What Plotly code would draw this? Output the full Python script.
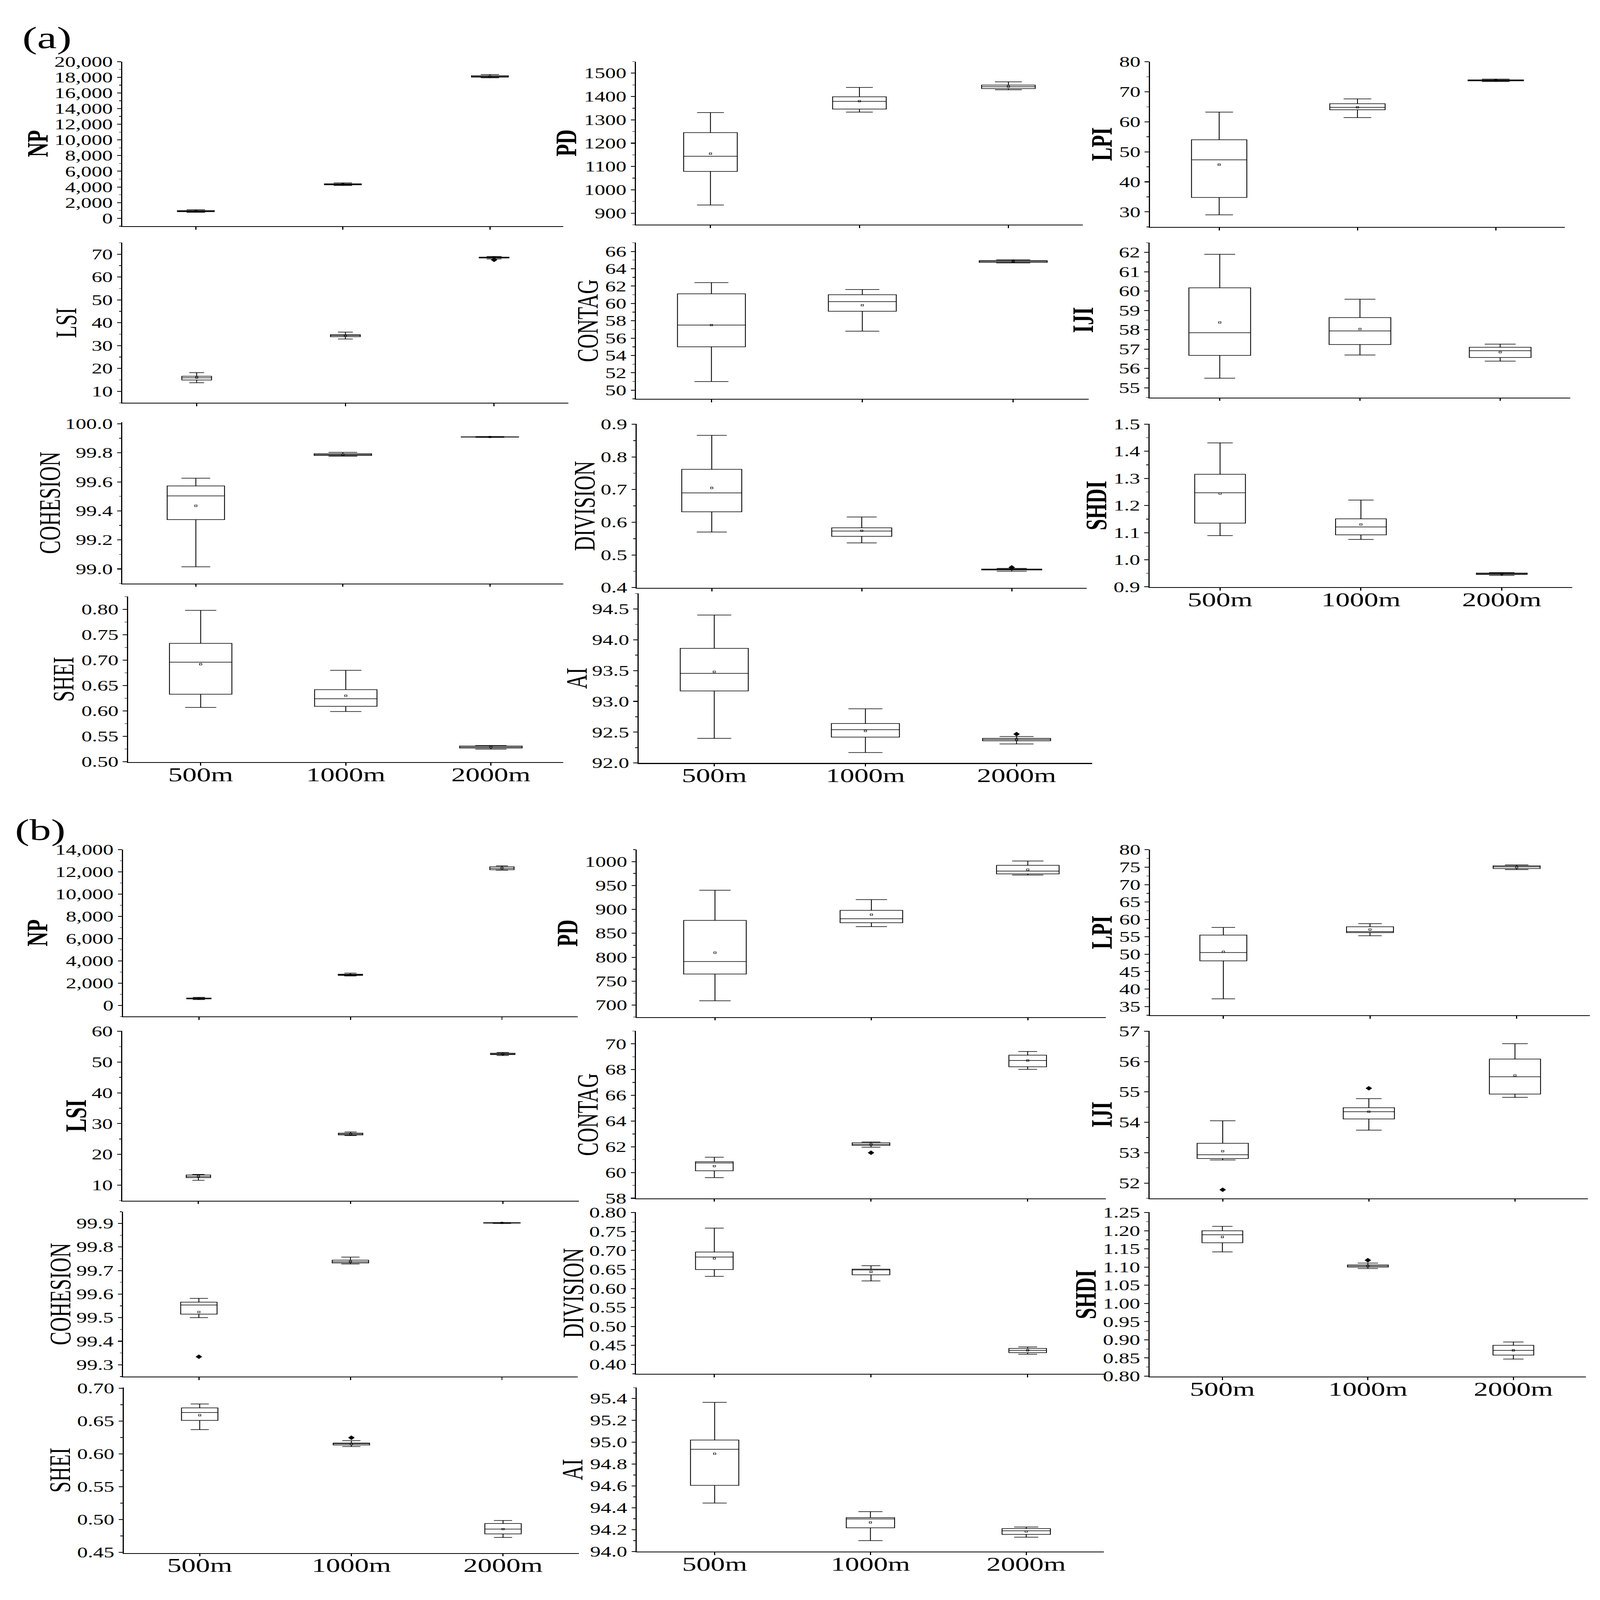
import plotly.graph_objects as go

SCALES = ["500m", "1000m", "2000m"]
METRICS = ["NP", "PD", "LPI", "LSI", "CONTAG", "IJI",
           "COHESION", "DIVISION", "SHDI", "SHEI", "AI"]

# box stats per scale (500m, 1000m, 2000m):
# lower whisker, Q1, median, Q3, upper whisker, mean
A_NP = [[760, 840, 900, 980, 1090, 910],
        [4180, 4270, 4330, 4400, 4520, 4340],
        [17930, 18020, 18100, 18200, 18350, 18110]]
A_PD = [[935, 1079, 1144, 1245, 1331, 1155],
        [1333, 1346, 1379, 1399, 1439, 1380],
        [1429, 1434, 1442, 1449, 1463, 1443]]
A_LPI = [[29.0, 34.8, 47.3, 54.0, 63.2, 45.7],
         [61.4, 64.0, 64.8, 66.0, 67.6, 64.8],
         [73.4, 73.6, 73.76, 73.95, 74.2, 73.8]]
A_LSI = [[13.8, 15.0, 15.9, 16.6, 18.2, 16.0],
         [32.9, 33.9, 34.4, 34.8, 35.9, 34.4],
         [67.9, 68.3, 68.5, 68.7, 69.0, 68.5]]
A_CONTAG = [[51.0, 55.0, 57.5, 61.1, 62.4, 57.5],
            [56.8, 59.1, 60.2, 61.0, 61.6, 59.8],
            [64.67, 64.73, 64.84, 64.93, 65.04, 64.88]]
A_IJI = [[55.5, 56.68, 57.85, 60.17, 61.9, 58.38],
         [56.7, 57.24, 57.94, 58.63, 59.58, 58.04],
         [56.38, 56.57, 56.92, 57.1, 57.26, 56.84]]
A_COHESION = [[99.015, 99.34, 99.503, 99.572, 99.625, 99.435],
              [99.777, 99.782, 99.788, 99.794, 99.803, 99.788],
              [99.906, 99.908, 99.909, 99.910, 99.912, 99.909]]
A_DIVISION = [[0.570, 0.632, 0.690, 0.762, 0.866, 0.705],
              [0.537, 0.557, 0.573, 0.583, 0.616, 0.574],
              [0.450, 0.454, 0.456, 0.457, 0.459, 0.456]]
A_SHDI = [[1.089, 1.135, 1.247, 1.315, 1.431, 1.244],
          [1.075, 1.092, 1.121, 1.151, 1.220, 1.130],
          [0.942, 0.946, 0.948, 0.951, 0.953, 0.948]]
A_SHEI = [[0.607, 0.633, 0.696, 0.733, 0.798, 0.692],
          [0.599, 0.609, 0.624, 0.642, 0.680, 0.630],
          [0.525, 0.527, 0.529, 0.531, 0.532, 0.529]]
A_AI = [[92.40, 93.17, 93.455, 93.86, 94.40, 93.48],
        [92.17, 92.42, 92.54, 92.64, 92.88, 92.52],
        [92.31, 92.36, 92.38, 92.40, 92.43, 92.38]]

B_NP = [[520, 580, 620, 660, 720, 620],
        [2650, 2700, 2750, 2800, 2900, 2750],
        [12160, 12200, 12320, 12460, 12550, 12340]]
B_PD = [[709, 765, 791, 877, 940, 809.5],
        [864, 872, 880.5, 898, 920.5, 889],
        [971.6, 974.2, 980, 992, 1001, 983]]
B_LPI = [[37.2, 48.1, 50.5, 55.5, 57.7, 50.7],
         [55.3, 56.2, 56.5, 57.9, 58.8, 57.1],
         [74.3, 74.6, 75.1, 75.4, 75.65, 75.0]]
B_LSI = [[11.6, 12.45, 12.8, 13.3, 13.5, 12.9],
         [26.1, 26.3, 26.6, 26.9, 27.3, 26.6],
         [52.1, 52.4, 52.6, 52.86, 53.1, 52.6]]
B_CONTAG = [[59.6, 60.13, 60.74, 60.84, 61.19, 60.5],
            [61.97, 62.11, 62.19, 62.31, 62.37, 62.19],
            [68.02, 68.22, 68.71, 69.12, 69.41, 68.71]]
B_IJI = [[52.76, 52.81, 52.93, 53.31, 54.05, 53.05],
         [53.74, 54.11, 54.35, 54.48, 54.78, 54.35],
         [54.82, 54.93, 55.50, 56.08, 56.59, 55.54]]
B_COHESION = [[99.500, 99.515, 99.554, 99.566, 99.582, 99.524],
              [99.728, 99.732, 99.737, 99.744, 99.757, 99.738],
              [99.900, 99.9015, 99.9025, 99.9035, 99.904, 99.9025]]
B_DIVISION = [[0.632, 0.650, 0.683, 0.696, 0.759, 0.679],
              [0.620, 0.636, 0.649, 0.651, 0.660, 0.644],
              [0.427, 0.431, 0.437, 0.442, 0.446, 0.437]]
B_SHDI = [[1.142, 1.167, 1.189, 1.200, 1.212, 1.183],
          [1.096, 1.100, 1.103, 1.106, 1.111, 1.103],
          [0.847, 0.858, 0.871, 0.885, 0.894, 0.871]]
B_SHEI = [[0.637, 0.651, 0.663, 0.670, 0.676, 0.659],
          [0.6112, 0.6135, 0.6154, 0.6165, 0.620, 0.6150],
          [0.4727, 0.4781, 0.4854, 0.4938, 0.4985, 0.4854]]
B_AI = [[94.444, 94.606, 94.935, 95.02, 95.365, 94.895],
        [94.10, 94.217, 94.298, 94.31, 94.365, 94.266],
        [94.131, 94.157, 94.19, 94.21, 94.224, 94.183]]

# outliers: panel, metric, scale, value
OUTLIERS = [("a", "LSI", "2000m", 67.5),
            ("a", "DIVISION", "2000m", 0.462),
            ("a", "AI", "2000m", 92.47),
            ("b", "CONTAG", "1000m", 61.54),
            ("b", "IJI", "500m", 51.78),
            ("b", "IJI", "1000m", 55.12),
            ("b", "COHESION", "500m", 99.334),
            ("b", "SHDI", "1000m", 1.119),
            ("b", "SHEI", "1000m", 0.6246)]

STATS = {
    "a": dict(NP=A_NP, PD=A_PD, LPI=A_LPI, LSI=A_LSI, CONTAG=A_CONTAG, IJI=A_IJI,
              COHESION=A_COHESION, DIVISION=A_DIVISION, SHDI=A_SHDI, SHEI=A_SHEI, AI=A_AI),
    "b": dict(NP=B_NP, PD=B_PD, LPI=B_LPI, LSI=B_LSI, CONTAG=B_CONTAG, IJI=B_IJI,
              COHESION=B_COHESION, DIVISION=B_DIVISION, SHDI=B_SHDI, SHEI=B_SHEI, AI=B_AI),
}

# layout of each subplot in reference pixels: (left, top, right, bottom), y range,
# dtick, tick format, box width, bold title, title centre x
SPEC = {
    "a": {
        "NP": ((317, 204, 1460, 828), (-1000, 20010), 2000, ",", 0.25, True, 97),
        "PD": ((1648, 204, 2806, 823), (850, 1550), 100, "", 0.36, True, 1467),
        "LPI": ((2980, 204, 4055, 831), (25, 80.05), 10, "", 0.40, True, 2855),
        "LSI": ((317, 891, 1473, 1498), (5, 75), 10, "", 0.20, False, 171),
        "CONTAG": ((1648, 891, 2821, 1483), (49, 67), 2, "", 0.45, False, 1523),
        "IJI": ((2979, 891, 4069, 1478), (54.5, 62.5), 1, "", 0.44, True, 2806),
        "COHESION": ((317, 1572, 1460, 2183), (98.9, 100.01), 0.2, ".1f", 0.39, False, 129),
        "DIVISION": ((1650, 1578, 2816, 2200), (0.399, 0.901), 0.1, ".1f", 0.40, False, 1515),
        "SHDI": ((2979, 1578, 4074, 2197), (0.899, 1.501), 0.1, ".1f", 0.36, True, 2840),
        "SHEI": ((332, 2233, 1460, 2861), (0.499, 0.825), 0.05, ".2f", 0.43, False, 164),
        "AI": ((1655, 2221, 2830, 2864), (91.999, 94.75), 0.5, ".1f", 0.45, False, 1494),
    },
    "b": {
        "NP": ((319, 3192, 1497, 3825), (-1000, 14010), 2000, ",", 0.16, True, 97),
        "PD": ((1650, 3192, 2866, 3827), (675, 1025), 50, "", 0.40, True, 1470),
        "LPI": ((2980, 3192, 4120, 3820), (32.5, 80.05), 5, "", 0.32, True, 2855),
        "LSI": ((317, 3880, 1500, 4523), (5, 60.05), 10, "", 0.16, True, 196),
        "CONTAG": ((1648, 3880, 2866, 4514), (58, 71), 2, "", 0.24, False, 1523),
        "IJI": ((2979, 3880, 4115, 4514), (51.5, 57.005), 1, "", 0.35, True, 2855),
        "COHESION": ((319, 4565, 1497, 5190), (99.25, 99.95), 0.1, ".1f", 0.24, False, 156),
        "DIVISION": ((1648, 4567, 2866, 5180), (0.375, 0.801), 0.05, ".2f", 0.24, False, 1485),
        "SHDI": ((2979, 4567, 4110, 5190), (0.799, 1.251), 0.05, ".2f", 0.28, True, 2813),
        "SHEI": ((321, 5232, 1500, 5859), (0.449, 0.701), 0.05, ".2f", 0.24, False, 155),
        "AI": ((1650, 5232, 2861, 5854), (93.999, 95.5), 0.2, ".1f", 0.31, False, 1483),
    },
}
XLABELED = {"SHDI", "SHEI", "AI"}

W, H = 4146, 6006
FONT = "Liberation Serif"

fig = go.Figure()
annotations = []
n = 0
for panel in ["a", "b"]:
    for name in METRICS:
        n += 1
        (l, t, r, b), yr, dt, fmt, bw, bold, tx = SPEC[panel][name]
        rows = STATS[panel][name]
        xa, ya = f"x{n}", f"y{n}"
        fig.add_trace(go.Box(
            x=SCALES,
            lowerfence=[s[0] for s in rows],
            q1=[s[1] for s in rows],
            median=[s[2] for s in rows],
            q3=[s[3] for s in rows],
            upperfence=[s[4] for s in rows],
            width=bw, whiskerwidth=0.5, boxpoints=False,
            fillcolor="white", line=dict(color="black", width=2.2),
            xaxis=xa, yaxis=ya, showlegend=False,
        ))
        fig.add_trace(go.Scatter(
            x=SCALES, y=[s[5] for s in rows], mode="markers",
            marker=dict(symbol="square-open", size=6, color="black",
                        line=dict(width=1.5, color="black")),
            xaxis=xa, yaxis=ya, showlegend=False,
        ))
        outs = [o for o in OUTLIERS if o[0] == panel and o[1] == name]
        if outs:
            fig.add_trace(go.Scatter(
                x=[o[2] for o in outs], y=[o[3] for o in outs], mode="markers",
                marker=dict(symbol="diamond", size=13, color="black"),
                xaxis=xa, yaxis=ya, showlegend=False,
            ))
        fig.layout[f"xaxis{n}"] = dict(
            domain=[l / W, r / W], anchor=ya, type="category",
            categoryorder="array", categoryarray=SCALES, range=[-0.5, 2.5],
            showline=True, linecolor="black", linewidth=2.5, mirror=False,
            showgrid=False, zeroline=False,
            ticks="outside", ticklen=10, tickwidth=2.5, tickcolor="black",
            showticklabels=name in XLABELED, ticklabelstandoff=-30,
            tickfont=dict(family=FONT, size=74, color="black"),
        )
        fig.layout[f"yaxis{n}"] = dict(
            domain=[1 - b / H, 1 - t / H], anchor=xa, range=list(yr),
            dtick=dt, tick0=0, tickformat=fmt,
            showline=True, linecolor="black", linewidth=2.5, mirror=False,
            showgrid=False, zeroline=False,
            ticks="outside", ticklen=11, tickwidth=2.5, tickcolor="black",
            minor=dict(ticks="outside", ticklen=6, tickwidth=2, tickcolor="black",
                       dtick=dt / 2, showgrid=False),
            tickfont=dict(family=FONT, size=55, color="black"),
        )
        label = f"<b>{name}</b>" if bold else name
        annotations.append(dict(
            text=label, x=tx / W, y=1 - (t + b) / 2 / H, xref="paper", yref="paper",
            textangle=-90, xanchor="center", yanchor="middle", showarrow=False,
            font=dict(family=FONT, size=76, color="black"),
        ))

annotations.append(dict(text="(a)", x=122 / W, y=1 - 114 / H, xref="paper", yref="paper",
                        xanchor="center", yanchor="middle", showarrow=False,
                        font=dict(family=FONT, size=115, color="black")))
annotations.append(dict(text="(b)", x=104 / W, y=1 - 3117 / H, xref="paper", yref="paper",
                        xanchor="center", yanchor="middle", showarrow=False,
                        font=dict(family=FONT, size=112, color="black")))

fig.update_layout(
    width=W, height=H,
    margin=dict(l=0, r=0, t=0, b=0),
    paper_bgcolor="white", plot_bgcolor="white",
    showlegend=False,
    annotations=annotations,
)

# the figure is drawn at full size; if the window is smaller, scale it to fit
FIT_JS = """
document.documentElement.style.overflow = 'hidden';
document.body.style.margin = '0';
document.body.style.overflow = 'hidden';
var gd = document.getElementById('{plot_id}');
var sx = window.innerWidth / %d, sy = window.innerHeight / %d;
gd.style.transformOrigin = '0 0';
gd.style.transform = 'scale(' + Math.min(sx, 1) + ',' + Math.min(sy, 1) + ')';
""" % (W, H)

fig.write_html("out.html", post_script=FIT_JS, config={"displayModeBar": False})
